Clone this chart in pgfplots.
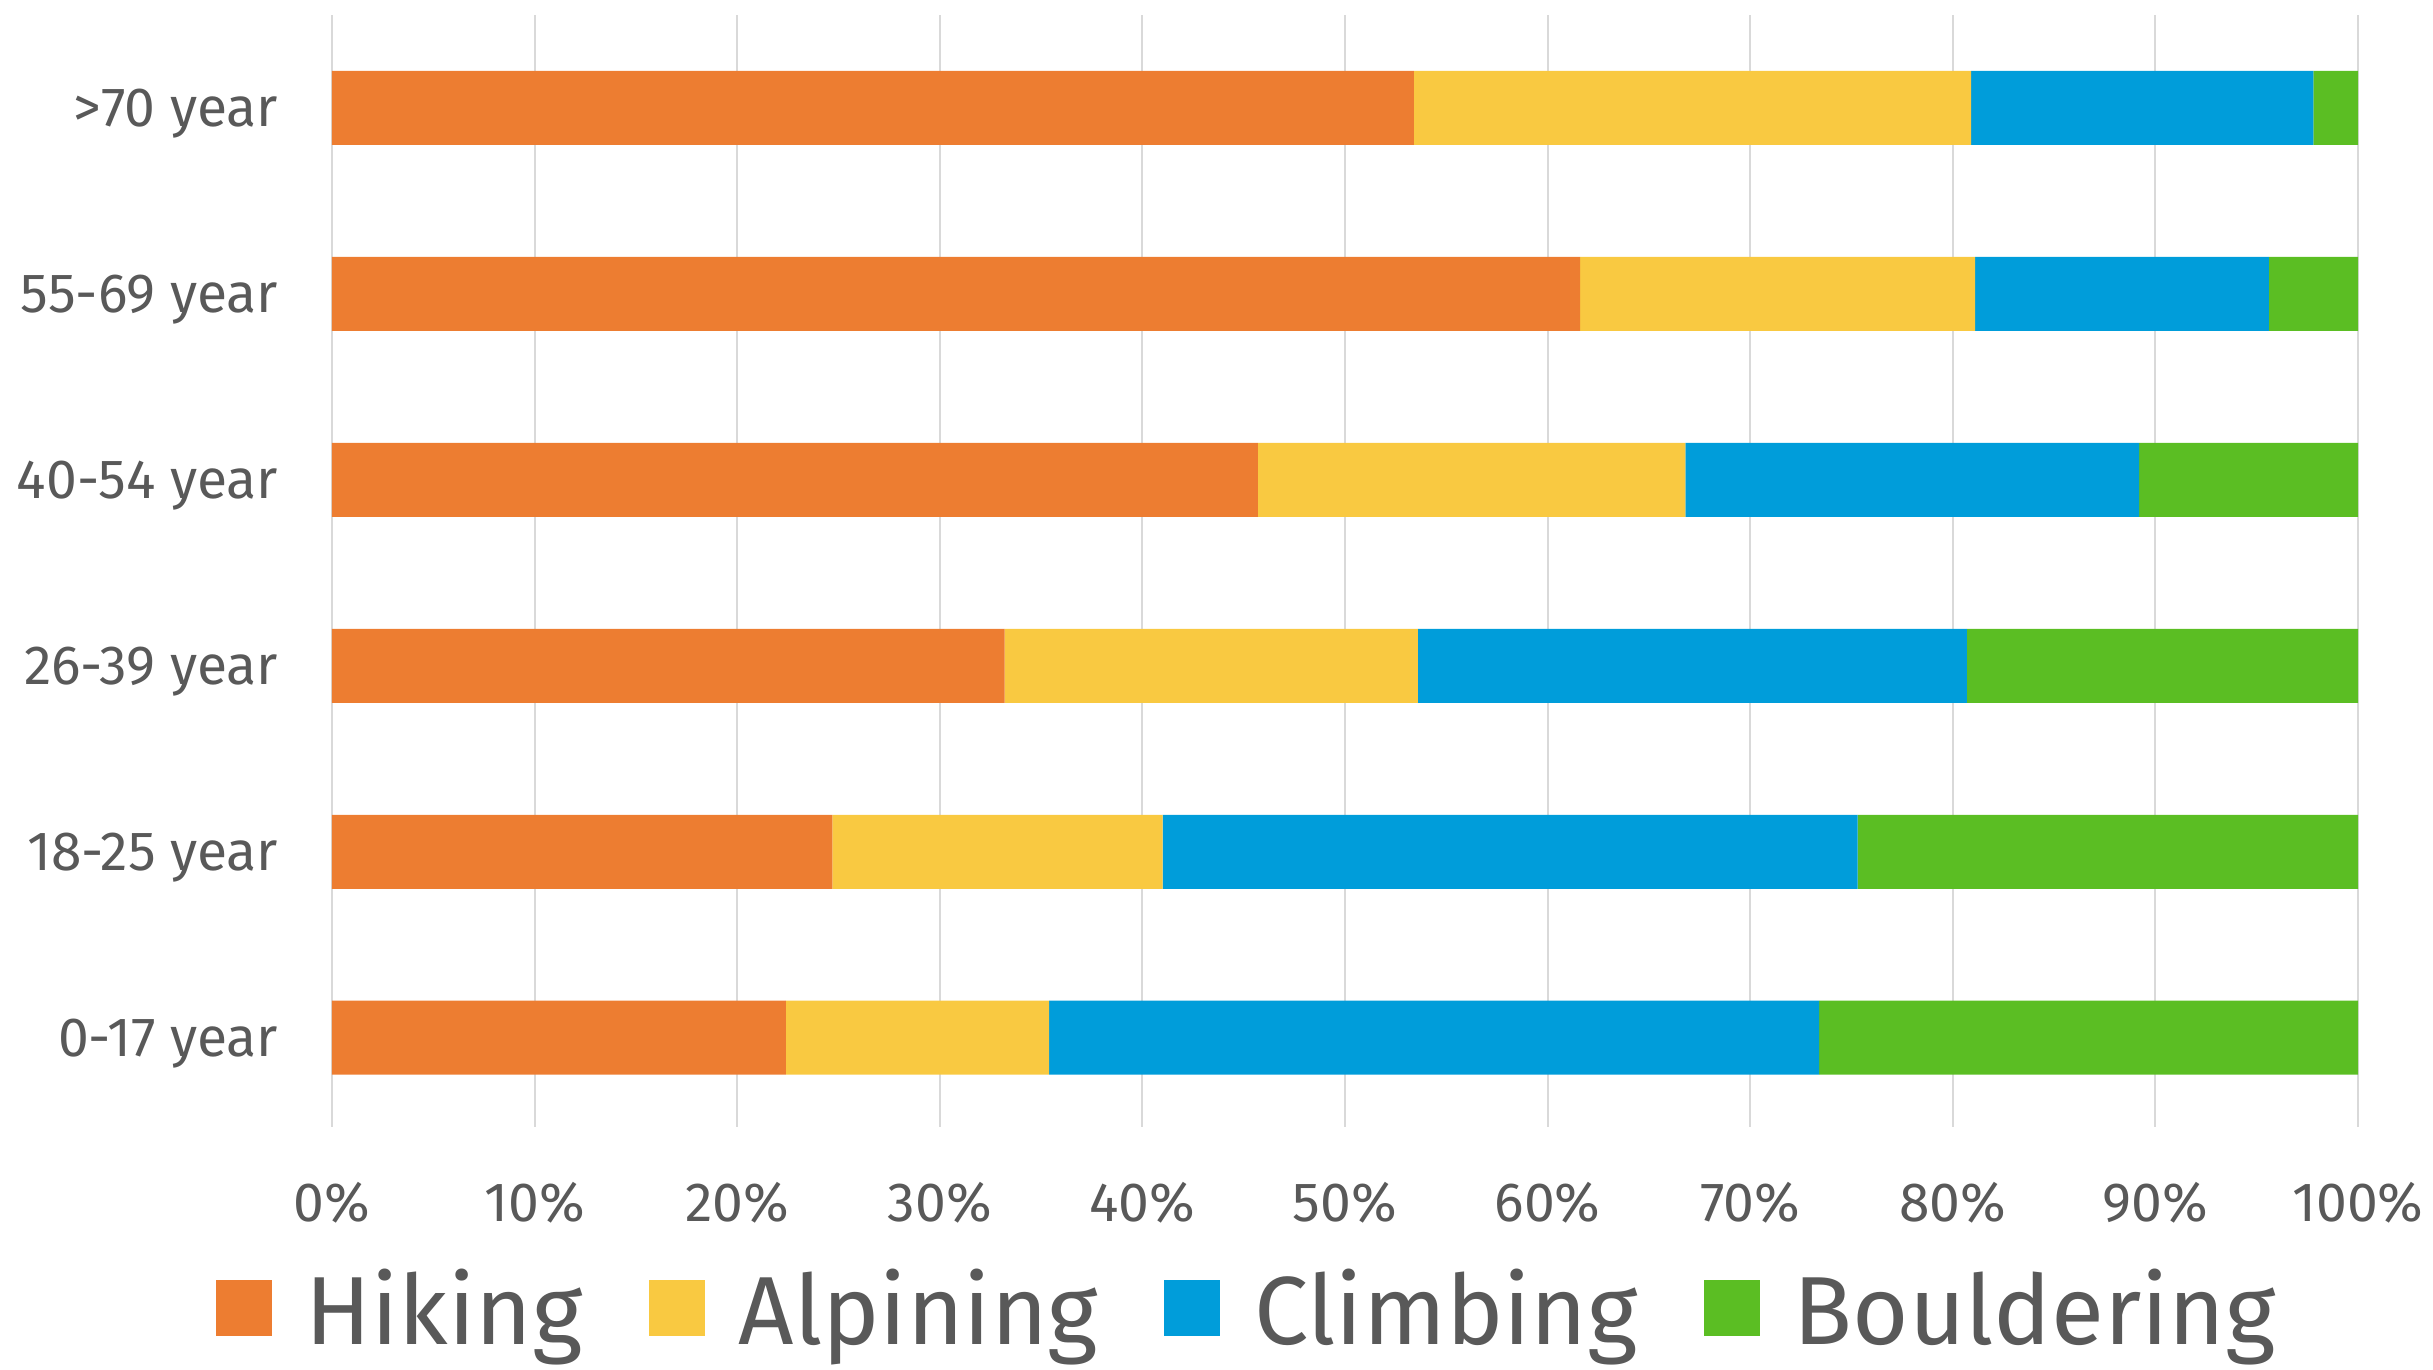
\documentclass[border=0pt]{standalone}
\usepackage{fontspec}
\setmainfont{Fira Sans}
\usepackage{pgfplots}
\pgfplotsset{compat=1.18}
\definecolor{hik}{HTML}{ED7D31}
\definecolor{alp}{HTML}{F9C941}
\definecolor{cli}{HTML}{009DDA}
\definecolor{bou}{HTML}{5BBE23}
\definecolor{txt}{HTML}{595959}
\definecolor{grd}{HTML}{D9D9D9}
\pgfplotsset{sq/.style={legend image code/.code={\fill[##1] (0pt,-6.5pt) rectangle (14pt,7.5pt);}}}
\begin{document}
\begin{tikzpicture}
\path (-83pt,-60.75pt) rectangle (525.25pt,281.75pt);
\begin{axis}[
 at={(0,0)}, anchor=south west,
 scale only axis, width=506.5pt, height=278pt,
 xbar stacked, bar width=18.5pt,
 xmin=0, xmax=100, ymin=-0.48, ymax=5.5,
 ytick={0,...,5},
 yticklabels={0-17 year,18-25 year,26-39 year,40-54 year,55-69 year,>70 year},
 xtick={0,10,...,100},
 xticklabels={0\%,10\%,20\%,30\%,40\%,50\%,60\%,70\%,80\%,90\%,100\%},
 xmajorgrids, grid style={grd, line width=0.5pt},
 axis line style={draw=none}, major tick length=0pt,
 tick label style={font=\fontsize{13.8}{16}\selectfont, text=txt},
 yticklabel style={anchor=base east, inner sep=0pt, xshift=-13.25pt, yshift=-4.75pt},
 xticklabel style={anchor=base, inner sep=0pt, yshift=-23.5pt},
 legend columns=4,
 legend style={draw=none, fill=none, at={(0.451,-0.1645)}, anchor=center,
   font=\fontsize{24.2}{28}\selectfont, text=txt,
   nodes={inner sep=0pt},
   column sep=0pt,
   /tikz/every odd column/.append style={column sep=8.5pt},
   /tikz/every even column/.append style={column sep=16.5pt}},
]
\addplot[sq, draw=none, fill=hik] coordinates {(22.4,0) (24.7,1) (33.2,2) (45.7,3) (61.6,4) (53.4,5)};
\addplot[sq, draw=none, fill=alp] coordinates {(13.0,0) (16.3,1) (20.4,2) (21.1,3) (19.5,4) (27.5,5)};
\addplot[sq, draw=none, fill=cli] coordinates {(38.0,0) (34.3,1) (27.1,2) (22.4,3) (14.5,4) (16.9,5)};
\addplot[sq, draw=none, fill=bou] coordinates {(26.6,0) (24.7,1) (19.3,2) (10.8,3) (4.4,4) (2.2,5)};
\legend{Hiking,Alpining,Climbing,Bouldering}
\end{axis}
\end{tikzpicture}
\end{document}
